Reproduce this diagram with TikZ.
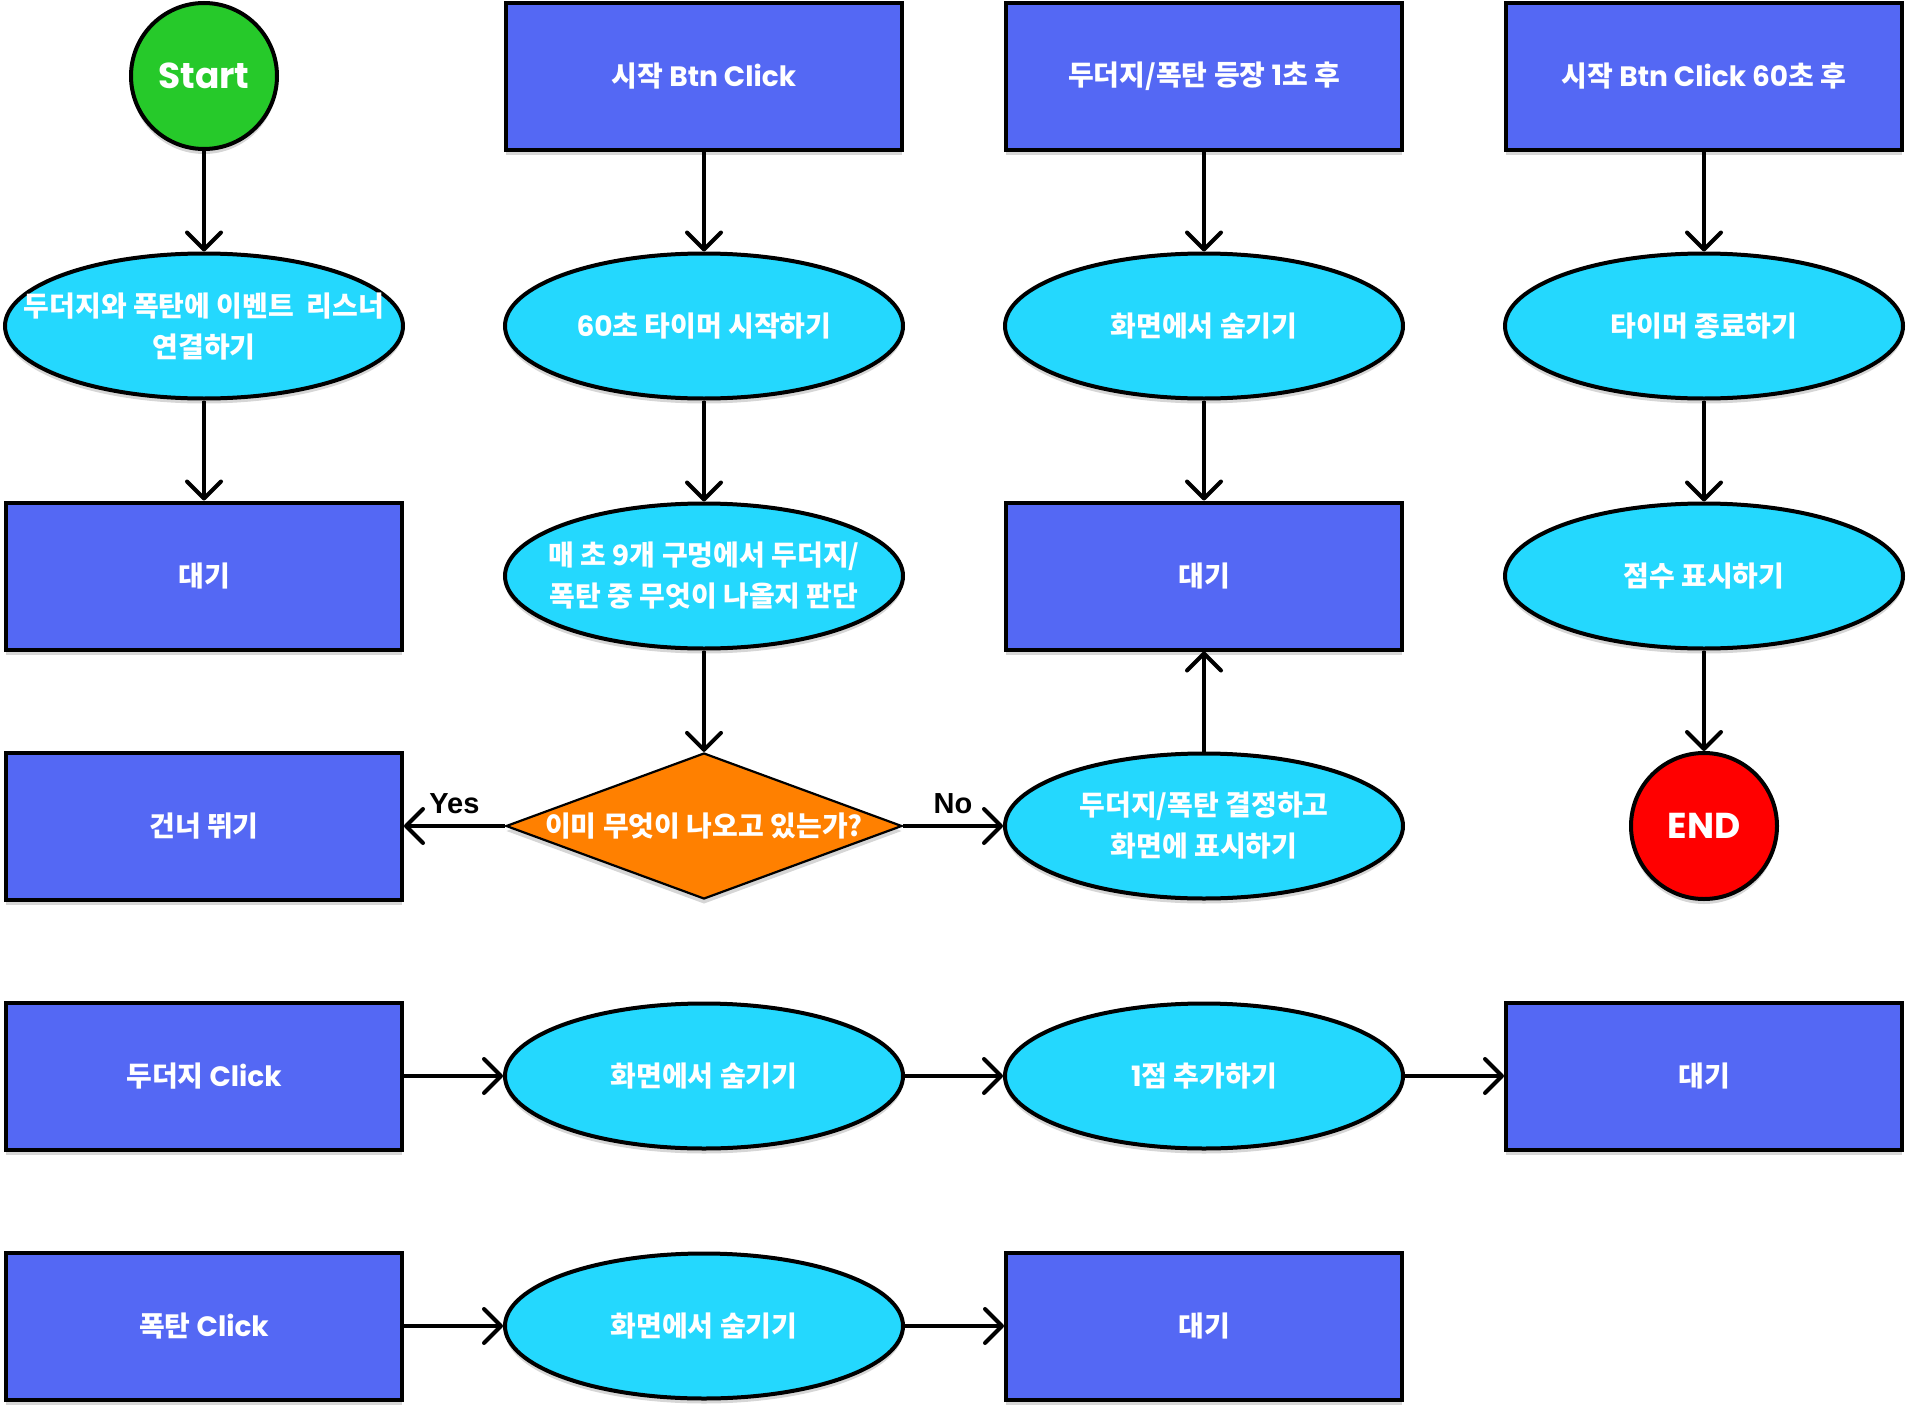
\documentclass[tikz,border=0pt]{standalone}
\usepackage{fontspec}
\setmainfont{Poppins}
\newfontfamily\kr{Noto Sans CJK KR}
\newfontfamily\lib{Liberation Sans}
\usetikzlibrary{shapes.geometric,arrows.meta,shadows}
\definecolor{boxblue}{HTML}{5468F4}
\definecolor{ellcyan}{HTML}{24D8FE}
\definecolor{dorange}{HTML}{FF8000}
\definecolor{sgreen}{HTML}{26C92A}
\definecolor{ered}{HTML}{FF0000}
\newcommand{\K}[1]{{\kr\bfseries #1}}
\tikzset{
  shp/.style={draw=black, line width=2pt, inner sep=0pt,
    drop shadow={shadow xshift=0pt, shadow yshift=-2.5pt, opacity=0.16, fill=black}},
  rbox/.style={shp, rectangle, fill=boxblue, minimum width=198pt, minimum height=73.5pt},
  ell/.style={shp, ellipse, fill=ellcyan, minimum width=199pt, minimum height=72.5pt},
  dia/.style={shp, diamond, line width=1.1pt, fill=dorange, minimum width=198pt, minimum height=73pt},
  circ/.style={shp, circle, minimum size=73pt},
  txt/.style={text=white, font=\bfseries\fontsize{14}{20.5}\selectfont, align=center, inner sep=0pt},
  bigtxt/.style={text=white, font=\bfseries\fontsize{18}{22}\selectfont, inner sep=0pt},
  arr/.style={line width=2pt, -{Straight Barb[length=8.5pt,width=17pt,round]}},
  lbl/.style={font=\lib\bfseries\fontsize{14.5}{17}\selectfont, inner sep=0pt, anchor=base, yshift=6.5pt}
}
\begin{document}
\begin{tikzpicture}[x=0.5pt, y=-0.5pt]
\path[use as bounding box] (0,0) rectangle (1908,1408);
% row 1
\node[circ, fill=sgreen, label={[bigtxt]center:Start}] (s) at (204,76) {};
\node[rbox, label={[txt]center:{\K{시작} Btn Click}}] (b1) at (704,76) {};
\node[rbox, label={[txt]center:{\K{두더지/폭탄 등장} 1\K{초 후}}}] (c1) at (1204,76) {};
\node[rbox, label={[txt]center:{\K{시작} Btn Click 60\K{초 후}}}] (d1) at (1704,76) {};
% row 2
\node[ell, label={[txt]center:{\K{두더지와 폭탄에 이벤트~~리스너}\\\K{연결하기}}}] (a2) at (204,326) {};
\node[ell, label={[txt]center:{60\K{초 타이머 시작하기}}}] (b2) at (704,326) {};
\node[ell, label={[txt]center:{\K{화면에서 숨기기}}}] (c2) at (1204,326) {};
\node[ell, label={[txt]center:{\K{타이머 종료하기}}}] (d2) at (1704,326) {};
% row 3
\node[rbox, label={[txt]center:{\K{대기}}}] (a3) at (204,576) {};
\node[ell, label={[txt]center:{\K{매 초 9개 구멍에서 두더지/}\\\K{폭탄 중 무엇이 나올지 판단}}}] (b3) at (704,576) {};
\node[rbox, label={[txt]center:{\K{대기}}}] (c3) at (1204,576) {};
\node[ell, label={[txt]center:{\K{점수 표시하기}}}] (d3) at (1704,576) {};
% row 4
\node[rbox, label={[txt]center:{\K{건너 뛰기}}}] (a4) at (204,826) {};
\node[dia, label={[txt]center:{\K{이미 무엇이 나오고 있는가?}}}] (b4) at (704,826) {};
\node[ell, label={[txt]center:{\K{두더지/폭탄 결정하고}\\\K{화면에 표시하기}}}] (c4) at (1204,826) {};
\node[circ, fill=ered, label={[bigtxt]center:END}] (d4) at (1704,826) {};
% row 5
\node[rbox, label={[txt]center:{\K{두더지} Click}}] (a5) at (204,1076) {};
\node[ell, label={[txt]center:{\K{화면에서 숨기기}}}] (b5) at (704,1076) {};
\node[ell, label={[txt]center:{1\K{점 추가하기}}}] (c5) at (1204,1076) {};
\node[rbox, label={[txt]center:{\K{대기}}}] (d5) at (1704,1076) {};
% row 6
\node[rbox, label={[txt]center:{\K{폭탄} Click}}] (a6) at (204,1326) {};
\node[ell, label={[txt]center:{\K{화면에서 숨기기}}}] (b6) at (704,1326) {};
\node[rbox, label={[txt]center:{\K{대기}}}] (c6) at (1204,1326) {};
% connectors
\draw[arr] (s) -- (a2);
\draw[arr] (a2) -- (a3);
\draw[arr] (b1) -- (b2);
\draw[arr] (b2) -- (b3);
\draw[arr] (b3) -- (b4);
\draw[arr] (b4) -- node[lbl]{Yes} (a4);
\draw[arr] (b4) -- node[lbl]{No} (c4);
\draw[arr] (c4) -- (c3);
\draw[arr] (c1) -- (c2);
\draw[arr] (c2) -- (c3);
\draw[arr] (d1) -- (d2);
\draw[arr] (d2) -- (d3);
\draw[arr] (d3) -- (d4);
\draw[arr] (a5) -- (b5);
\draw[arr] (b5) -- (c5);
\draw[arr] (c5) -- (d5);
\draw[arr] (a6) -- (b6);
\draw[arr] (b6) -- (c6);
\end{tikzpicture}
\end{document}
